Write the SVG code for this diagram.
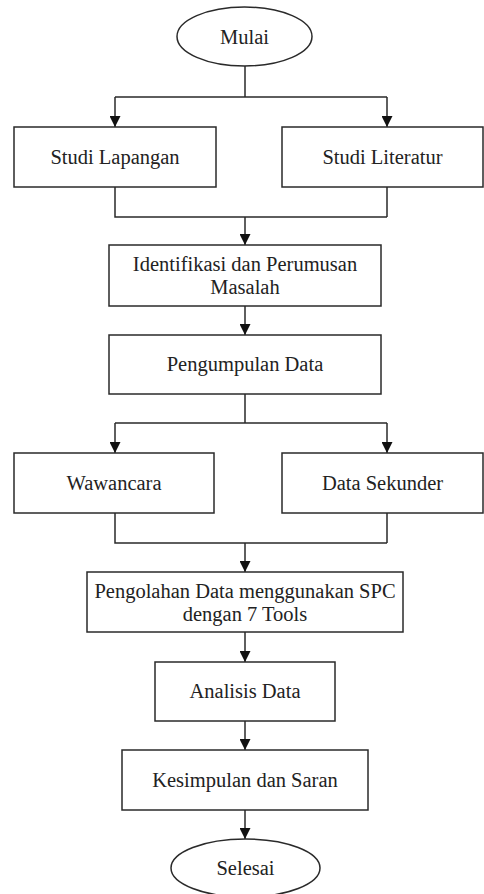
<svg xmlns="http://www.w3.org/2000/svg" width="484" height="894" viewBox="0 0 484 894">
  <defs>
    <marker id="arrow" viewBox="0 0 10 10" refX="10" refY="5" markerWidth="11" markerHeight="11" markerUnits="userSpaceOnUse" orient="auto">
      <path d="M0,0 L10,5 L0,10 Z" fill="#111"/>
    </marker>
    <style>
      .shape { fill: #fff; stroke: #2a2a2a; stroke-width: 1.5; }
      .label { font-family: "Liberation Serif", "Times New Roman", serif; font-size: 20.5px; fill: #222; text-anchor: middle; }
      .conn { fill: none; stroke: #2a2a2a; stroke-width: 1.5; }
      .arr { marker-end: url(#arrow); }
    </style>
  </defs>
  <rect width="484" height="894" fill="#fff"/>

  <g id="connectors">
    <!-- Mulai splits into the two studies -->
    <path class="conn" d="M245,66 V97 M115,97 H387"/>
    <path class="conn arr" d="M115,97 V127"/>
    <path class="conn arr" d="M387,97 V127"/>
    <!-- studies merge into problem identification -->
    <path class="conn" d="M115,187 V217 H387 M387,187 V217"/>
    <path class="conn arr" d="M245,217 V245"/>
    <path class="conn arr" d="M245,306 V335"/>
    <!-- data collection splits -->
    <path class="conn" d="M245,394 V423 M115,423 H387"/>
    <path class="conn arr" d="M115,423 V453"/>
    <path class="conn arr" d="M387,423 V453"/>
    <!-- merge into processing -->
    <path class="conn" d="M115,513 V543 H387 M387,513 V543"/>
    <path class="conn arr" d="M245,543 V572"/>
    <path class="conn arr" d="M245,632 V662"/>
    <path class="conn arr" d="M245,721 V750"/>
    <path class="conn arr" d="M245,810 V839"/>
  </g>

  <g id="mulai">
    <ellipse class="shape" cx="244.5" cy="36.5" rx="67.5" ry="29.5"/>
    <text class="label" x="244.5" y="44">Mulai</text>
  </g>

  <g id="studi-lapangan">
    <rect class="shape" x="14" y="127" width="202" height="60"/>
    <text class="label" x="115" y="164">Studi Lapangan</text>
  </g>

  <g id="studi-literatur">
    <rect class="shape" x="282" y="127" width="201" height="60"/>
    <text class="label" x="382.5" y="164">Studi Literatur</text>
  </g>

  <g id="identifikasi">
    <rect class="shape" x="109" y="245" width="272" height="61"/>
    <text class="label" x="245" y="271">Identifikasi dan Perumusan</text>
    <text class="label" x="245" y="294">Masalah</text>
  </g>

  <g id="pengumpulan">
    <rect class="shape" x="109" y="335" width="272" height="59"/>
    <text class="label" x="245" y="371">Pengumpulan Data</text>
  </g>

  <g id="wawancara">
    <rect class="shape" x="14" y="453" width="200" height="60"/>
    <text class="label" x="114" y="490">Wawancara</text>
  </g>

  <g id="data-sekunder">
    <rect class="shape" x="282" y="453" width="201" height="60"/>
    <text class="label" x="382.5" y="490">Data Sekunder</text>
  </g>

  <g id="pengolahan">
    <rect class="shape" x="87" y="572" width="316" height="60"/>
    <text class="label" x="245" y="598">Pengolahan Data menggunakan SPC</text>
    <text class="label" x="245" y="621">dengan 7 Tools</text>
  </g>

  <g id="analisis">
    <rect class="shape" x="155" y="662" width="180" height="59"/>
    <text class="label" x="245" y="698">Analisis Data</text>
  </g>

  <g id="kesimpulan">
    <rect class="shape" x="122" y="750" width="246" height="60"/>
    <text class="label" x="245" y="787">Kesimpulan dan Saran</text>
  </g>

  <g id="selesai">
    <ellipse class="shape" cx="245.5" cy="868" rx="74.5" ry="29"/>
    <text class="label" x="245.5" y="875">Selesai</text>
  </g>
</svg>
